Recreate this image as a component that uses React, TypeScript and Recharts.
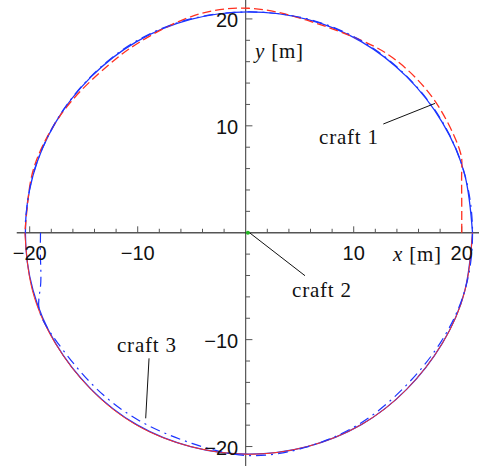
import {
  ComposedChart,
  Line,
  ReferenceDot,
  ReferenceLine,
  Scatter,
  XAxis,
  YAxis,
} from "recharts";

type Pt = { x: number; y: number };
const pts = (pairs: number[][]): Pt[] => pairs.map(([x, y]) => ({ x, y }));

// blue solid track, one full lap counter-clockwise from the +x side
const leaderPath = pts([
  [21.0, 0], [20.3, 5.35], [18.2, 10.33], [14.9, 14.6], [10.7, 17.88], [5.7, 19.95],
  [0.3, 20.65], [-5.1, 19.95], [-10.1, 17.88], [-14.3, 14.6], [-17.6, 10.33], [-19.7, 5.35],
  [-20.4, 0], [-19.7, -5.36], [-17.6, -10.35], [-14.3, -14.65], [-10.1, -17.95], [-5.1, -20.0],
  [0.3, -20.7], [5.7, -20.0], [10.7, -17.95], [14.9, -14.65], [18.2, -10.35], [20.3, -5.36],
  [21.0, 0],
]);

// craft 1: climbs from (20, 0), then the upper half (dashed)
const craft1Out = pts([
  [20.0, 0], [20.0, 3.0], [20.0, 5.8], [19.85, 7.6], [18.55, 10.6], [16.55, 13.6],
  [13.9, 16.15], [10.7, 18.0], [5.6, 19.9], [0.3, 21.0], [-5.1, 20.2], [-9.95, 17.75],
  [-12.8, 15.6], [-16.55, 11.8], [-19.25, 7.1], [-20.1, 3.6], [-20.45, 0],
]);

// craft 1: lower half back to the start side (solid)
const craft1Back = pts([
  [-20.45, 0], [-19.75, -5.4], [-17.6, -10.4], [-14.3, -14.7], [-10.1, -18.0], [-5.1, -20.0],
  [0.3, -20.72], [5.7, -20.0], [10.7, -17.95], [14.9, -14.65], [18.2, -10.35], [20.3, -5.4],
  [21.0, 0],
]);

// craft 3: drops from (-19, 0), cuts slightly inside, then goes round
const craft3Path = pts([
  [-19.0, 0], [-19.0, -2.5], [-19.0, -5.0], [-19.1, -7.3], [-17.45, -10.25], [-14.05, -14.35],
  [-9.85, -17.58], [-4.98, -19.7], [0.3, -20.85], [5.67, -20.04], [10.6, -17.84], [14.72, -14.42],
  [18.05, -10.25], [20.3, -5.36], [21.0, 0], [20.3, 5.38], [18.2, 10.4], [14.9, 14.65],
  [10.7, 17.95], [5.7, 20.0], [0.3, 20.65], [-5.1, 20.0], [-10.1, 17.95], [-14.3, 14.65],
  [-17.6, 10.35], [-19.7, 5.4], [-20.4, 1.0],
]);

// craft 2 stays at the centre
const craft2Pos = pts([[0.2, 0]]);

const X_TICKS = [-20, -18, -16, -14, -12, -10, -8, -6, -4, -2, 2, 4, 6, 8, 10, 12, 14, 16, 18, 20];
const Y_TICKS = [-20, -18, -16, -14, -12, -10, -8, -6, -4, -2, 2, 4, 6, 8, 10, 12, 14, 16, 18, 20];
const X_LABELS = [-20, -10, 10, 20];
const Y_LABELS = [20, 10, -10, -20];

const RED = "#ff3020";
const BLUE = "#1c35ff";
const GREEN = "#22b822";
const AXIS = "#555";
const SANS = "'Liberation Sans', Arial, sans-serif";
const SERIF = "'Liberation Serif', 'Times New Roman', serif";

const fmt = (v: number) => (v < 0 ? `\u2212${Math.abs(v)}` : `${v}`);

const textShape =
  (
    content: React.ReactNode,
    opts: { dx?: number; dy?: number; anchor?: "start" | "middle" | "end"; font?: string; size?: number; spacing?: number }
  ) =>
  (p: any) =>
    (
      <text
        x={p.cx + (opts.dx ?? 0)}
        y={p.cy + (opts.dy ?? 0)}
        textAnchor={opts.anchor ?? "start"}
        fontFamily={opts.font ?? SERIF}
        fontSize={opts.size ?? 21}
        letterSpacing={opts.spacing ?? 0}
        fill="#111"
      >
        {content}
      </text>
    );

const smallDot = (p: any) => <circle cx={p.cx} cy={p.cy} r={2} fill={GREEN} />;

export default function App() {
  return (
    <div style={{ position: "absolute", left: 0, top: 0, background: "#fff" }}>
      <ComposedChart width={479} height={466} margin={{ top: 0, right: 0, bottom: 0, left: 0 }}>
        <XAxis type="number" dataKey="x" domain={[-22.75, 21.6]} allowDataOverflow hide />
        <YAxis type="number" dataKey="y" domain={[-21.82, 21.77]} allowDataOverflow hide />

        {/* axes through the origin */}
        <ReferenceLine
          segment={[{ x: -21.2, y: 0 }, { x: 21.6, y: 0 }]}
          stroke={AXIS}
          strokeWidth={1.4}
        />
        <ReferenceLine x={0} stroke="#333" strokeWidth={1} />
        {X_TICKS.map((t) => (
          <ReferenceLine
            key={`xt${t}`}
            segment={[{ x: t, y: 0 }, { x: t, y: X_LABELS.includes(t) ? 0.6 : 0.37 }]}
            stroke={AXIS}
            strokeWidth={1}
          />
        ))}
        {Y_TICKS.map((t) => (
          <ReferenceLine
            key={`yt${t}`}
            segment={[{ x: 0, y: t }, { x: Y_LABELS.includes(t) ? 0.62 : 0.4, y: t }]}
            stroke={AXIS}
            strokeWidth={1}
          />
        ))}
        {X_LABELS.map((t) => (
          <ReferenceDot
            key={`xl${t}`}
            x={t}
            y={0}
            r={0}
            shape={textShape(fmt(t), { dy: 27, anchor: "middle", font: SANS, size: 20 })}
          />
        ))}
        {Y_LABELS.map((t) => (
          <ReferenceDot
            key={`yl${t}`}
            x={0}
            y={t}
            r={0}
            shape={textShape(fmt(t), { dx: -7.5, dy: 8, anchor: "end", font: SANS, size: 20 })}
          />
        ))}

        <Line
          data={leaderPath}
          dataKey="y"
          type="natural"
          stroke={BLUE}
          strokeWidth={1.3}
          dot={false}
          activeDot={false}
          isAnimationActive={false}
        />
        <Line
          data={craft1Back}
          dataKey="y"
          type="natural"
          stroke={RED}
          strokeWidth={1}
          dot={false}
          activeDot={false}
          isAnimationActive={false}
        />
        <Line
          data={craft1Out}
          dataKey="y"
          type="natural"
          stroke={RED}
          strokeWidth={1.3}
          strokeDasharray="9 4"
          dot={false}
          activeDot={false}
          isAnimationActive={false}
        />
        <Line
          data={craft3Path}
          dataKey="y"
          type="natural"
          stroke={BLUE}
          strokeWidth={1.2}
          strokeDasharray="10 5 2 5"
          dot={false}
          activeDot={false}
          isAnimationActive={false}
        />
        <Scatter data={craft2Pos} shape={smallDot} isAnimationActive={false} />

        {/* callouts */}
        <ReferenceLine segment={[{ x: 12.74, y: 10.17 }, { x: 17.53, y: 12.1 }]} stroke="#111" strokeWidth={1} />
        <ReferenceLine segment={[{ x: 0.24, y: 0.09 }, { x: 5.49, y: -4.02 }]} stroke="#111" strokeWidth={1} />
        <ReferenceLine segment={[{ x: -8.95, y: -11.75 }, { x: -9.26, y: -17.36 }]} stroke="#111" strokeWidth={1} />

        <ReferenceDot x={6.79} y={8.3} r={0} shape={textShape("craft 1", { spacing: 0.8 })} />
        <ReferenceDot x={4.29} y={-5.99} r={0} shape={textShape("craft 2", { spacing: 0.8 })} />
        <ReferenceDot x={-11.92} y={-11.13} r={0} shape={textShape("craft 3", { spacing: 0.8 })} />
        <ReferenceDot
          x={0.86}
          y={16.34}
          r={0}
          shape={textShape(
            <>
              <tspan fontStyle="italic">y</tspan> [m]
            </>,
            { spacing: 0.8 }
          )}
        />
        <ReferenceDot
          x={13.64}
          y={-2.6}
          r={0}
          shape={textShape(
            <>
              <tspan fontStyle="italic">x</tspan> [m]
            </>,
            { spacing: 0.8 }
          )}
        />
      </ComposedChart>
    </div>
  );
}
